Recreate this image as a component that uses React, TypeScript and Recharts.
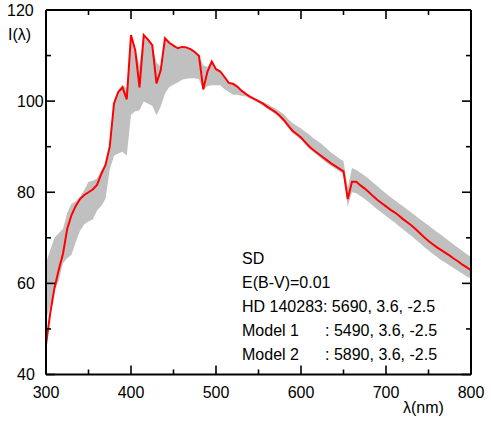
import React from 'react';
import { ComposedChart, Area, Line, XAxis, YAxis } from 'recharts';

const LAMBDA = [
  300, 305, 310, 315, 320, 325, 330, 335, 340, 345,
  350, 355, 360, 365, 370, 375, 380, 385, 390, 395,
  400, 405, 410, 415, 420, 425, 430, 435, 440, 445,
  450, 455, 460, 465, 470, 475, 480, 485, 490, 495,
  500, 505, 510, 515, 520, 525, 530, 535, 540, 545,
  550, 555, 560, 565, 570, 575, 580, 585, 590, 595,
  600, 605, 610, 615, 620, 625, 630, 635, 640, 645,
  650, 655, 660, 665, 670, 675, 680, 685, 690, 695,
  700, 705, 710, 715, 720, 725, 730, 735, 740, 745,
  750, 755, 760, 765, 770, 775, 780, 785, 790, 795,
  800,
];

const HD140283 = [
  46.5, 53.5, 59, 63, 66.5, 72, 75, 77, 78.5, 79.4,
  80, 80.6, 81.6, 84, 86, 90, 99.5, 102, 103, 100.4,
  114.5, 111.2, 103, 114.5, 113.5, 112.3, 103.9, 106.8, 113.8, 112.8,
  112.2, 111.6, 111.9, 111.8, 111.4, 110.8, 109.9, 102.6, 106.5, 108.7,
  107, 106.5, 105.3, 104, 103.8, 103.2, 102.3, 101.6, 101, 100.5,
  100, 99.5, 98.8, 98.2, 97.6, 96.8, 95.8, 94.6, 93.5, 92.8,
  92, 91, 90, 89.2, 88.5, 87.8, 87.1, 86.4, 85.8, 85.2,
  84.6, 78.5, 82.3, 82.3, 81.5, 80.8, 80, 79.1, 78.3, 77.6,
  76.9, 76.2, 75.6, 74.9, 74.1, 73.4, 72.7, 71.9, 71, 70.1,
  69.3, 68.6, 67.9, 67.3, 66.7, 66.1, 65.4, 64.8, 64.1, 63.5,
  62.9,
];

const BAND_LOW = [
  52, 55, 58.5, 60.5, 64.4, 65.5, 66.3, 69, 71.5, 73,
  73.6, 74, 76, 77, 78.5, 85, 88, 88.5, 88.9, 88,
  97, 97.8, 98, 99.9, 99.4, 99, 96.9, 98.8, 101.7, 103.1,
  103.6, 104.1, 104.7, 104.9, 105, 105, 104.8, 102.4, 103.3, 103.5,
  103.5, 103.5, 102.6, 102, 101.4, 101.4, 101.2, 101, 100.6, 100.1,
  99.6, 99, 98.4, 97.8, 97.1, 96.3, 95.3, 94.1, 93, 92.3,
  91.5, 90.5, 89.5, 88.7, 88, 87.2, 86.5, 85.8, 85.2, 84.6,
  84, 76.8, 80, 79.8, 79.2, 78.5, 77.8, 77, 76.2, 75.5,
  74.8, 74.1, 73.4, 72.6, 71.9, 71.1, 70.4, 69.6, 68.8, 68,
  67.2, 66.5, 65.8, 65.1, 64.5, 63.9, 63.3, 62.7, 62.1, 61.5,
  61,
];

const BAND_HIGH = [
  64.5, 67.3, 70, 71, 72, 75.5, 77.5, 78, 79, 80.5,
  82.3, 82.5, 83, 84.8, 86.2, 90, 99.6, 102.5, 103.6, 102.8,
  114.5, 111.2, 108, 114.5, 113.5, 112.3, 108.5, 107.5, 113.8, 112.8,
  112.2, 111.6, 111.9, 111.8, 111.4, 110.8, 109.9, 107.9, 107.5, 108.7,
  107, 106.5, 105.3, 104, 103.8, 103.2, 102.3, 101.6, 101, 100.6,
  100.2, 99.8, 99.4, 98.9, 98.4, 97.7, 97.1, 96, 95.2, 94.6,
  94, 93.3, 92.6, 91.8, 91.2, 90.5, 89.6, 88.8, 88.1, 87.4,
  86.8, 81, 85.3, 84.9, 84.3, 83.6, 82.9, 82.1, 81.3, 80.5,
  79.7, 79, 78.3, 77.6, 76.9, 76.2, 75.5, 74.8, 74.1, 73.4,
  72.7, 72, 71.3, 70.6, 69.9, 69.2, 68.5, 67.8, 67.1, 66.4,
  65.8,
];

const X_TICKS = [300, 350, 400, 450, 500, 550, 600, 650, 700, 750, 800];
const Y_TICKS = [40, 50, 60, 70, 80, 90, 100, 110, 120];

const ANNOTATION = [
  ['SD', ''],
  ['E(B-V)=0.01', ''],
  ['HD 140283: 5690, 3.6, -2.5', ''],
  ['Model 1', ': 5490, 3.6, -2.5'],
  ['Model 2', ': 5890, 3.6, -2.5'],
];

const data = LAMBDA.map((l, i) => ({
  lambda: l,
  hd: HD140283[i],
  band: [BAND_LOW[i], BAND_HIGH[i]],
}));

const FONT = '"Liberation Sans", Arial, Helvetica, sans-serif';
const MAJOR = 9;
const MINOR = 5;

function BottomTick(props: any) {
  const { x, y, payload } = props;
  const v = payload.value;
  const major = v % 100 === 0;
  return (
    <g>
      <line x1={x} y1={y} x2={x} y2={y - (major ? MAJOR : MINOR)} stroke="#000" strokeWidth={1.6} />
      {major && (
        <text x={x} y={y + 23.5} textAnchor="middle" fontFamily={FONT} fontSize={16} fill="#000">
          {v}
        </text>
      )}
    </g>
  );
}

function TopTick(props: any) {
  const { x, y, payload } = props;
  const major = payload.value % 100 === 0;
  return <line x1={x} y1={y} x2={x} y2={y + (major ? MAJOR : MINOR)} stroke="#000" strokeWidth={1.6} />;
}

function LeftTick(props: any) {
  const { x, y, payload } = props;
  const v = payload.value;
  const major = v % 20 === 0;
  return (
    <g>
      <line x1={x} y1={y} x2={x + (major ? MAJOR : MINOR)} y2={y} stroke="#000" strokeWidth={1.6} />
      {major && (
        <text x={v === 120 ? x - 39 : x - 29} y={y + 5.8} textAnchor="start" fontFamily={FONT} fontSize={16} fill="#000">
          {v}
        </text>
      )}
    </g>
  );
}

function RightTick(props: any) {
  const { x, y, payload } = props;
  const major = payload.value % 20 === 0;
  return <line x1={x} y1={y} x2={x - (major ? MAJOR : MINOR)} y2={y} stroke="#000" strokeWidth={1.6} />;
}

const axisLine = { stroke: '#000', strokeWidth: 2 };

export default function App() {
  return (
    <div style={{ position: 'absolute', left: 0, top: 0, width: 491, height: 421, background: '#fff' }}>
      <ComposedChart
        width={491}
        height={421}
        data={data}
        margin={{ top: 0, right: 10, bottom: 16.5, left: 6 }}
      >
        <XAxis
          dataKey="lambda"
          type="number"
          domain={[300, 800]}
          ticks={X_TICKS}
          interval={0}
          height={30}
          tickSize={0}
          tickMargin={0}
          axisLine={axisLine}
          tickLine={false}
          tick={<BottomTick />}
          allowDataOverflow
        />
        <XAxis
          xAxisId="top"
          orientation="top"
          dataKey="lambda"
          type="number"
          domain={[300, 800]}
          ticks={X_TICKS}
          interval={0}
          height={10}
          tickSize={0}
          tickMargin={0}
          axisLine={axisLine}
          tickLine={false}
          tick={<TopTick />}
          allowDataOverflow
        />
        <YAxis
          type="number"
          domain={[40, 120]}
          ticks={Y_TICKS}
          interval={0}
          width={40}
          tickSize={0}
          tickMargin={0}
          axisLine={axisLine}
          tickLine={false}
          tick={<LeftTick />}
          allowDataOverflow
        />
        <YAxis
          yAxisId="right"
          orientation="right"
          type="number"
          domain={[40, 120]}
          ticks={Y_TICKS}
          interval={0}
          width={10}
          tickSize={0}
          tickMargin={0}
          axisLine={axisLine}
          tickLine={false}
          tick={<RightTick />}
          allowDataOverflow
        />
        <Area
          type="linear"
          dataKey="band"
          fill="#c0c0c0"
          fillOpacity={1}
          stroke="none"
          isAnimationActive={false}
        />
        <Line
          type="linear"
          dataKey="hd"
          stroke="#ff0000"
          strokeWidth={2}
          dot={false}
          isAnimationActive={false}
        />
      </ComposedChart>
      <svg
        width={491}
        height={421}
        style={{ position: 'absolute', left: 0, top: 0, pointerEvents: 'none' }}
      >
        <text x={8} y={40} fontFamily={FONT} fontSize={16} fill="#000">I(λ)</text>
        <text x={403} y={413} fontFamily={FONT} fontSize={16} fill="#000">λ(nm)</text>
        {ANNOTATION.map(([a, b], i) => (
          <g key={i}>
            <text x={242} y={263.5 + i * 24} fontFamily={FONT} fontSize={16} fill="#000">{a}</text>
            {b && (
              <text x={325} y={263.5 + i * 24} fontFamily={FONT} fontSize={16} fill="#000">{b}</text>
            )}
          </g>
        ))}
      </svg>
    </div>
  );
}
